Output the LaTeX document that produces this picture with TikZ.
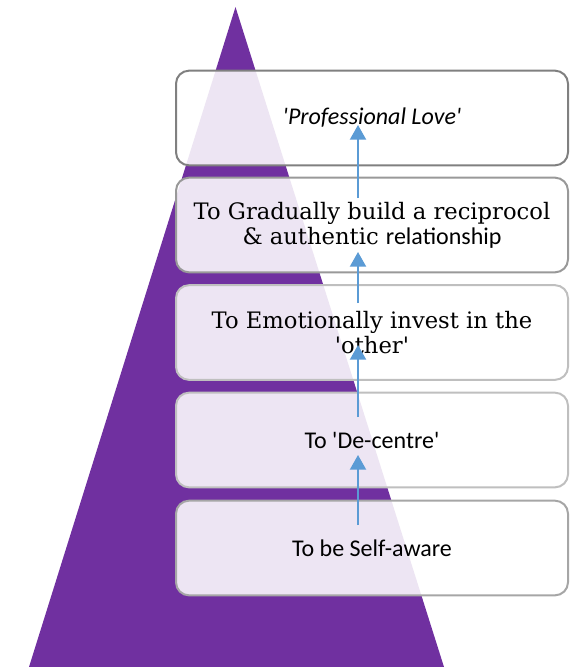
\documentclass[tikz,border=0pt]{standalone}
\usepackage{fontspec}
\setmainfont{DejaVu Serif}
\newfontfamily\calibri{Carlito}
\usepackage{tikz}
\usetikzlibrary{arrows.meta}

\definecolor{pyramid}{HTML}{7030A0}
\definecolor{flowblue}{HTML}{5B9BD5}

\begin{document}
\begin{tikzpicture}[x=0.75pt,y=-0.75pt]
					\tikzstyle{level}=[rounded corners=9.75pt,line width=1.5pt,fill=white,fill opacity=0.88,text opacity=1,minimum width=294pt,minimum height=71pt,align=center,font=\fontsize{17}{19}\selectfont]
					\tikzstyle{flow}=[draw=flowblue,line width=1.5pt,-{Triangle[length=11pt,width=12pt]}]
					\useasboundingbox (0,0) rectangle (573,667);
					% the pyramid behind the steps
					\fill[pyramid] (235.5,7) -- (444,667) -- (29,667) -- cycle;
					% steps, top to bottom
					\node[level,draw=black!50] (b1) at (372,118) {\calibri\itshape\fontsize{18}{20}\selectfont \textquotesingle Professional Love\textquotesingle};
					\node[level,draw=black!40] (b2) at (372,225) {To Gradually build a reciprocol\\ \& authentic {\calibri\fontsize{18}{20}\selectfont relationship}};
					\node[level,draw=black!25] (b3) at (372,332.5) {To Emotionally invest in the\\ \textquotesingle other\textquotesingle};
					\node[level,draw=black!25] (b4) at (372,440) {\calibri\fontsize{18}{20}\selectfont To \textquotesingle De-centre\textquotesingle};
					\node[level,draw=black!35] (b5) at (372,548) {\calibri\fontsize{18}{20}\selectfont To be Self-aware};
					% arrows up the steps
					\draw[flow] ([shift={(-14,-23)}]b5.center) -- ([shift={(-14,15)}]b4.center);
					\draw[flow] ([shift={(-14,-23)}]b4.center) -- ([shift={(-14,12.5)}]b3.center);
					\draw[flow] ([shift={(-14,-29.5)}]b3.center) -- ([shift={(-14,27)}]b2.center);
					\draw[flow] ([shift={(-14,-27)}]b2.center) -- ([shift={(-14,7)}]b1.center);
\end{tikzpicture}
\end{document}
